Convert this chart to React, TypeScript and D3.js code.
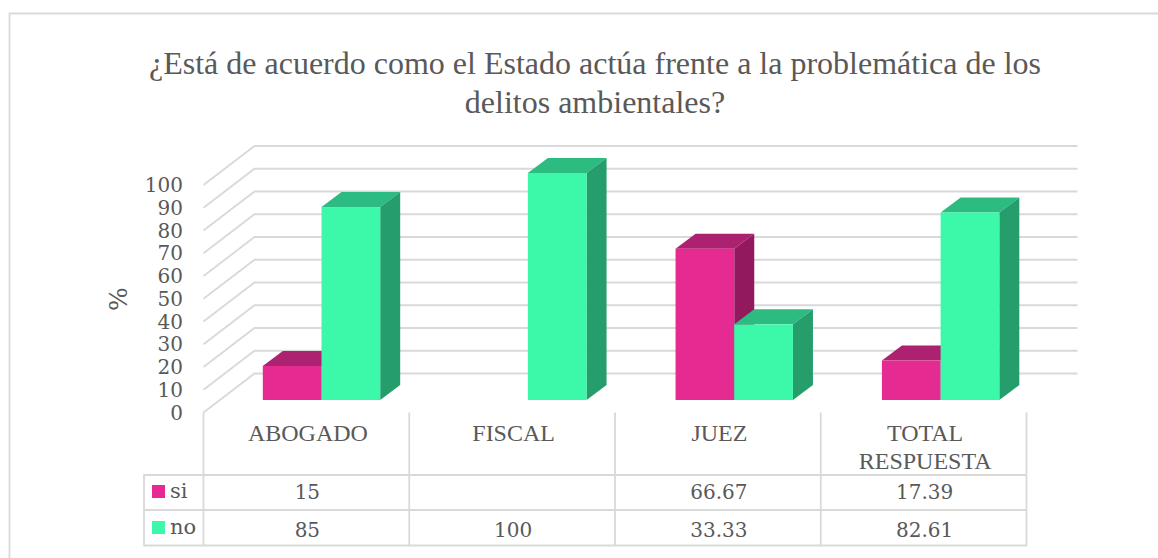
import React from "react";
import * as d3 from "d3";

const categories = ["ABOGADO", "FISCAL", "JUEZ", "TOTAL RESPUESTA"];
const categoryLines = [["ABOGADO"], ["FISCAL"], ["JUEZ"], ["TOTAL", "RESPUESTA"]];
const siValues: (number | null)[] = [15, null, 66.67, 17.39];
const noValues: (number | null)[] = [85, 100, 33.33, 82.61];
const siLabels = ["15", "", "66.67", "17.39"];
const noLabels = ["85", "100", "33.33", "82.61"];
const ticks = [0, 10, 20, 30, 40, 50, 60, 70, 80, 90, 100];
const titleLines = ["¿Está de acuerdo como el Estado actúa frente a la problemática de los", "delitos ambientales?"];
const GRID = "#d9d9d9";
const TEXT = "#595959";
const SI = { front: "#e52b91", top: "#ad2270", side: "#921a5c" };
const NO = { front: "#3cf9aa", top: "#2cbb80", side: "#259e6c" };
const GEORGIA = "'DejaVu Serif', serif";
const TIMES = "'Liberation Serif', serif";

const x = d3.scaleBand<string>().domain(categories).range([203.5, 1026.5]);
const xBars = d3.scaleBand<string>().domain(categories).range([203.5, 1029]);
const y = d3.scaleLinear().domain([0, 100]).range([412.5, 185]);
const barY = d3.scaleLinear().domain([0, 100]).range([400, 173]);
const WALL = { dx: 51, dy: -39 };
const BAR = { dx: 20, dy: -15 };
const BAR_OFFSET = 59.3;
const BAR_W = 58.7;

function Bar({ x0, v, c }: { x0: number; v: number; c: typeof SI }) {
  const t = barY(v), b = barY(0), x1 = x0 + BAR_W;
  return (
    <g>
      <polygon points={`${x0},${t} ${x0 + BAR.dx},${t + BAR.dy} ${x1 + BAR.dx},${t + BAR.dy} ${x1},${t}`} fill={c.top} />
      <polygon points={`${x1},${t} ${x1 + BAR.dx},${t + BAR.dy} ${x1 + BAR.dx},${b + BAR.dy} ${x1},${b}`} fill={c.side} />
      <rect x={x0} y={t} width={BAR_W} height={b - t} fill={c.front} />
    </g>
  );
}

export default function App() {
  const band = x.bandwidth();
  const rows = [475, 510, 545.5];
  return (
    <svg width={1158} height={558} style={{ position: "absolute", left: 0, top: 0, background: "#fff" }}>
      <path d="M1158,13.5H9.5V558" fill="none" stroke={GRID} strokeWidth={1.8} />
      {titleLines.map((l, i) => (
        <text key={i} x={595} y={74 + i * 39} textAnchor="middle" fontFamily={TIMES} fontSize={32} fill={TEXT}>{l}</text>
      ))}
      {ticks.map((t) => (
        <g key={t} stroke={GRID} strokeWidth={1.8} fill="none">
          <path d={`M${x(categories[0])!},${y(t)}L${x(categories[0])! + WALL.dx},${y(t) + WALL.dy}H1077.5`} />
        </g>
      ))}
      {ticks.map((t) => (
        <text key={t} x={183} y={y(t) + 7} textAnchor="end" fontFamily={GEORGIA} fontSize={20} fill={TEXT}>{t}</text>
      ))}
      <text transform="translate(127,299) rotate(-90)" textAnchor="middle" fontFamily={GEORGIA} fontSize={25} fill={TEXT}>%</text>
      {categories.map((c, i) => {
        const x0 = xBars(c)! + BAR_OFFSET;
        return (
          <g key={c}>
            {siValues[i] != null && <Bar x0={x0} v={siValues[i]!} c={SI} />}
            {noValues[i] != null && <Bar x0={x0 + BAR_W} v={noValues[i]!} c={NO} />}
          </g>
        );
      })}
      <g stroke={GRID} strokeWidth={1.8}>
        {[...categories.map((c) => x(c)!), 1026.5].map((v, i) => (
          <line key={i} x1={v} x2={v} y1={412.5} y2={546} />
        ))}
        <line x1={144} x2={144} y1={474.5} y2={546} />
        {rows.map((r) => (
          <line key={r} x1={143.5} x2={1027} y1={r} y2={r} />
        ))}
      </g>
      {categories.map((c, i) => {
        const cx = x(c)! + band / 2;
        return (
          <g key={c} textAnchor="middle" fill={TEXT}>
            <text fontFamily={TIMES} fontSize={24}>
              {categoryLines[i].map((l, j) => (
                <tspan key={j} x={cx + 1.5} y={441 + j * 27.5}>{l}</tspan>
              ))}
            </text>
            <text x={cx + 1} y={499} fontFamily={GEORGIA} fontSize={20}>{siLabels[i]}</text>
            <text x={cx + 1} y={537} fontFamily={GEORGIA} fontSize={20}>{noLabels[i]}</text>
          </g>
        );
      })}
      <rect x={152} y={485} width={13} height={13} fill={SI.front} />
      <rect x={152} y={521} width={13} height={13} fill={NO.front} />
      <text x={170} y={498} fontFamily={GEORGIA} fontSize={21} fill={TEXT}>si</text>
      <text x={170} y={534} fontFamily={GEORGIA} fontSize={21} fill={TEXT}>no</text>
    </svg>
  );
}
